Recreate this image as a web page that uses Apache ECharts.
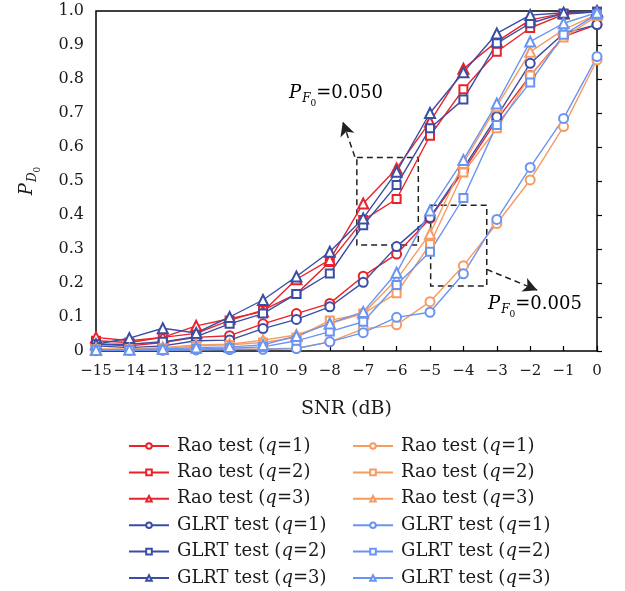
<!DOCTYPE html>
<html>
<head>
<meta charset="utf-8">
<script src="https://cdn.jsdelivr.net/npm/echarts@6/dist/echarts.min.js"></script>
<style>
html, body { margin: 0; padding: 0; background: #fff; }
#main { width: 625px; height: 591px; }
</style>
</head>
<body>
<div id="main"></div>
<script>
// SNR (dB)
var snr = [-15, -14, -13, -12, -11, -10, -9, -8, -7, -6, -5, -4, -3, -2, -1, 0];

// P_F0 = 0.050
var raoHi1  = [0.020, 0.015, 0.025, 0.040, 0.045, 0.080, 0.110, 0.140, 0.220, 0.285, 0.390, 0.530, 0.680, 0.810, 0.925, 0.960];
var raoHi2  = [0.030, 0.025, 0.040, 0.052, 0.090, 0.120, 0.168, 0.262, 0.385, 0.447, 0.633, 0.770, 0.880, 0.950, 0.990, 0.998];
var raoHi3  = [0.040, 0.030, 0.040, 0.074, 0.095, 0.116, 0.211, 0.268, 0.434, 0.537, 0.674, 0.830, 0.910, 0.974, 0.993, 0.998];
var glrtHi1 = [0.015, 0.010, 0.015, 0.030, 0.032, 0.066, 0.093, 0.130, 0.202, 0.307, 0.393, 0.537, 0.689, 0.846, 0.934, 0.960];
var glrtHi2 = [0.020, 0.020, 0.027, 0.042, 0.080, 0.110, 0.168, 0.228, 0.370, 0.488, 0.655, 0.740, 0.905, 0.964, 0.993, 0.998];
var glrtHi3 = [0.020, 0.038, 0.067, 0.053, 0.100, 0.150, 0.219, 0.292, 0.390, 0.527, 0.700, 0.820, 0.934, 0.988, 0.995, 1.000];

// P_F0 = 0.005
var raoLo1  = [0.002, 0.002, 0.003, 0.004, 0.005, 0.006, 0.008, 0.027, 0.065, 0.077, 0.145, 0.251, 0.375, 0.503, 0.660, 0.856];
var raoLo2  = [0.005, 0.005, 0.008, 0.015, 0.018, 0.025, 0.040, 0.090, 0.110, 0.170, 0.314, 0.525, 0.655, 0.810, 0.922, 0.985];
var raoLo3  = [0.005, 0.006, 0.010, 0.018, 0.020, 0.032, 0.047, 0.081, 0.110, 0.210, 0.345, 0.553, 0.720, 0.880, 0.945, 0.990];
var glrtLo1 = [0.001, 0.002, 0.002, 0.003, 0.004, 0.005, 0.007, 0.027, 0.054, 0.099, 0.114, 0.227, 0.387, 0.540, 0.684, 0.866];
var glrtLo2 = [0.002, 0.003, 0.004, 0.006, 0.008, 0.012, 0.030, 0.057, 0.086, 0.194, 0.292, 0.450, 0.665, 0.790, 0.930, 0.990];
var glrtLo3 = [0.003, 0.004, 0.006, 0.010, 0.012, 0.018, 0.044, 0.081, 0.115, 0.230, 0.413, 0.562, 0.728, 0.910, 0.964, 0.995];

var serif = 'DejaVu Serif';
var ink = '#1a1a1a';

var chart = echarts.init(document.getElementById('main'));

function pairs(vals) {
    return snr.map(function (x, i) { return [x, vals[i]]; });
}

// label text for each series (names must be unique, labels repeat)
var labels = {};
function mk(id, test, q, vals, color, symbol, size) {
    labels[id] = '{f|' + test + ' test (}{q|q}{n|=' + q + ')}';
    return {
        name: id,
        type: 'line',
        data: pairs(vals),
        symbol: symbol,
        symbolSize: size,
        lineStyle: { color: color, width: 1.4 },
        itemStyle: { color: color, borderColor: color, borderWidth: 1.4 },
        z: 3
    };
}

var red = '#e8232b', navy = '#3a4ea3', orange = '#f69b62', sky = '#6a94f2';

var series = [
    mk('rh1', 'Rao', 1, raoHi1, red, 'emptyCircle', 9),
    mk('rh2', 'Rao', 2, raoHi2, red, 'emptyRect', 8),
    mk('rh3', 'Rao', 3, raoHi3, red, 'emptyTriangle', 10),
    mk('gh1', 'GLRT', 1, glrtHi1, navy, 'emptyCircle', 9),
    mk('gh2', 'GLRT', 2, glrtHi2, navy, 'emptyRect', 8),
    mk('gh3', 'GLRT', 3, glrtHi3, navy, 'emptyTriangle', 10),
    mk('rl1', 'Rao', 1, raoLo1, orange, 'emptyCircle', 9),
    mk('rl2', 'Rao', 2, raoLo2, orange, 'emptyRect', 8),
    mk('rl3', 'Rao', 3, raoLo3, orange, 'emptyTriangle', 10),
    mk('gl1', 'GLRT', 1, glrtLo1, sky, 'emptyCircle', 9),
    mk('gl2', 'GLRT', 2, glrtLo2, sky, 'emptyRect', 8),
    mk('gl3', 'GLRT', 3, glrtLo3, sky, 'emptyTriangle', 10)
];

// dashed boxes and arrows
var dash = { color: '#222', width: 1.5, type: [6, 4] };
series.push({
    name: 'annot',
    type: 'line',
    data: [],
    silent: true,
    markArea: {
        silent: true,
        itemStyle: { color: 'rgba(0,0,0,0)', borderColor: '#222', borderWidth: 1.5, borderType: [6, 4] },
        label: { show: false },
        data: [
            [{ coord: [-7.19, 0.569] }, { coord: [-5.35, 0.312] }],
            [{ coord: [-4.98, 0.429] }, { coord: [-3.30, 0.191] }]
        ]
    },
    markLine: {
        silent: true,
        symbol: ['none', 'arrow'],
        symbolSize: [11, 14],
        lineStyle: dash,
        label: { show: false },
        data: [
            [{ coord: [-7.25, 0.571] }, { coord: [-7.61, 0.674] }],
            [{ coord: [-3.30, 0.240] }, { coord: [-1.79, 0.179] }]
        ]
    }
});

var subRich = {
    p: { fontFamily: serif, fontStyle: 'italic', fontSize: 18, lineHeight: 20, verticalAlign: 'top', color: ink },
    s: { fontFamily: serif, fontStyle: 'italic', fontSize: 12, lineHeight: 12, padding: [9, 0, 0, 1], verticalAlign: 'top', color: ink },
    z: { fontFamily: serif, fontSize: 9, lineHeight: 9, padding: [15, 0, 0, 0], verticalAlign: 'top', color: ink },
    t: { fontFamily: serif, fontSize: 18, lineHeight: 20, verticalAlign: 'top', color: ink }
};

function legendCfg(left, names) {
    return {
        left: left,
        top: 436,
        height: 156,
        padding: 0,
        orient: 'vertical',
        itemWidth: 40,
        itemHeight: 7,
        itemGap: 6.4,
        selectedMode: false,
        data: names,
        formatter: function (name) { return labels[name]; },
        textStyle: {
            color: ink,
            lineHeight: 20,
            rich: {
                f: { fontFamily: serif, fontSize: 18, lineHeight: 20, color: ink, padding: [0, 0, 0, 3] },
                n: { fontFamily: serif, fontSize: 18, lineHeight: 20, color: ink },
                q: { fontFamily: serif, fontSize: 18, lineHeight: 20, fontStyle: 'italic', color: ink }
            }
        }
    };
}

var option = {
    animation: false,
    backgroundColor: '#fff',
    grid: { left: 96, right: 28, top: 11, bottom: 240, show: true, borderColor: '#000', borderWidth: 1.5 },
    legend: [
        legendCfg(128, ['rh1', 'rh2', 'rh3', 'gh1', 'gh2', 'gh3']),
        legendCfg(352, ['rl1', 'rl2', 'rl3', 'gl1', 'gl2', 'gl3'])
    ],
    xAxis: {
        type: 'value',
        min: -15,
        max: 0,
        interval: 1,
        name: 'SNR (dB)',
        nameLocation: 'middle',
        nameGap: 49,
        nameTextStyle: { fontFamily: serif, fontSize: 19, color: ink },
        axisLine: { show: false },
        axisTick: { inside: true, length: 5, lineStyle: { color: '#000', width: 1.2 } },
        splitLine: { show: false },
        axisLabel: {
            margin: 13,
            fontFamily: serif,
            fontSize: 15,
            color: ink,
            showMinLabel: true,
            showMaxLabel: true,
            hideOverlap: false,
            formatter: function (v) { return String(v).replace('-', '\u2212'); }
        }
    },
    yAxis: {
        type: 'value',
        min: 0,
        max: 1,
        interval: 0.1,
        name: '{p|P}{s|D}{z|0}',
        nameLocation: 'middle',
        nameRotate: 90,
        nameGap: 58,
        nameTextStyle: { rich: subRich },
        axisLine: { show: false },
        axisTick: { inside: true, length: 5, lineStyle: { color: '#000', width: 1.2 } },
        splitLine: { show: false },
        axisLabel: {
            margin: 12,
            fontFamily: serif,
            fontSize: 16,
            color: ink,
            showMinLabel: true,
            formatter: function (v) { return v === 0 ? '0' : v.toFixed(1); }
        }
    },
    series: series
};

chart.setOption(option);

// P_F0 labels placed in data coordinates
function pfLabel(x, y, value) {
    var p = chart.convertToPixel({ gridIndex: 0 }, [x, y]);
    return {
        type: 'text',
        x: p[0],
        y: p[1],
        silent: true,
        style: {
            text: '{p|P}{s|F}{z|0}{t|=' + value + '}',
            rich: subRich,
            verticalAlign: 'top',
            align: 'left'
        }
    };
}

chart.setOption({
    graphic: [
        pfLabel(-9.22, 0.785, '0.050'),
        pfLabel(-3.26, 0.165, '0.005')
    ]
});
</script>
</body>
</html>
